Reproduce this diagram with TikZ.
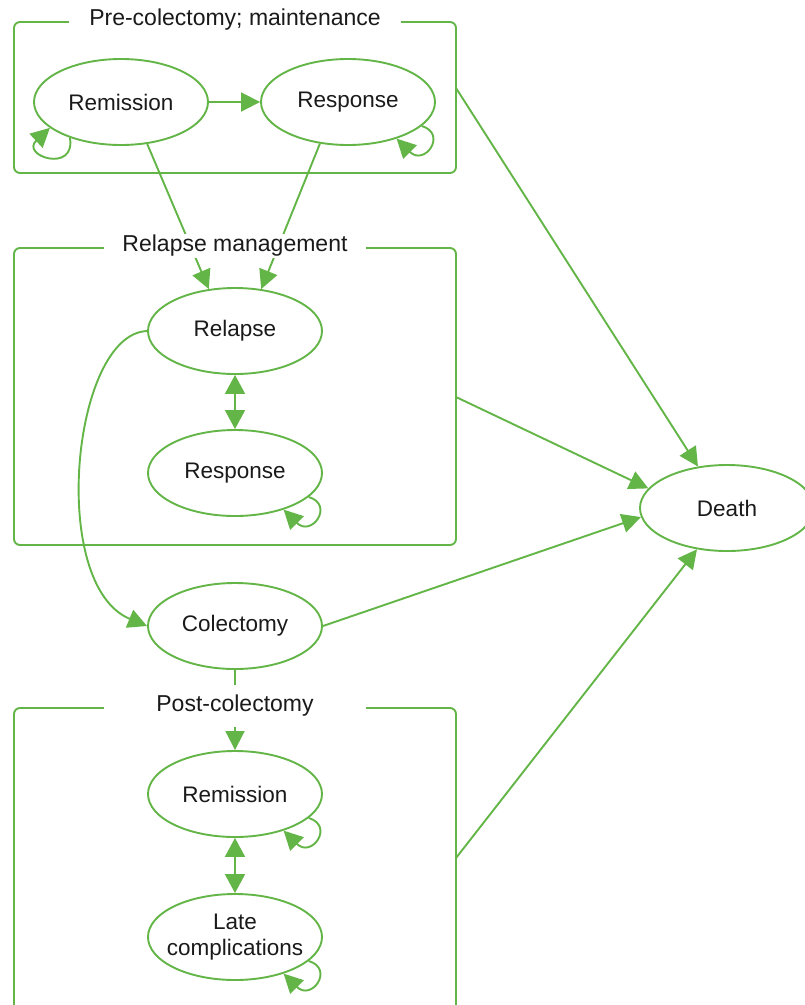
\documentclass[tikz,border=0pt]{standalone}
\usepackage{fontspec}
\setmainfont{Liberation Sans}
\usepackage{tikz}
\usetikzlibrary{positioning,shapes.geometric,arrows.meta,calc}
\definecolor{leaf} {HTML}{62B546}
\definecolor{ink}  {HTML}{1A1A1A}
\tikzset{
  every node/.style={font=\fontsize{22.5}{25}\selectfont, text=ink},
  % --- nodes
  st/.style    = {ellipse, draw=leaf, line width=1.9pt, fill=white, align=center,
                  minimum width=174pt, minimum height=86pt, inner sep=0pt},
  panel/.style = {rectangle, rounded corners=6pt, draw=leaf, line width=1.9pt},
  ttl/.style   = {fill=white, inner xsep=0pt, inner ysep=1pt, minimum width=262pt,
                  font=\fontsize{23}{26}\selectfont},
  % --- edges
  e/.style     = {-{Triangle[length=19pt,width=19pt]}, line width=1.9pt, draw=leaf},
  ee/.style    = {e, {Triangle[length=19pt,width=20pt]}-{Triangle[length=19pt,width=20pt]}},
}
\begin{document}
\begin{tikzpicture}[x=1pt,y=1pt]
  \useasboundingbox (0,0) rectangle (805,-1005);

  % panels
  \node[panel, minimum width=442pt, minimum height=151pt] (pre)  at (235,-97.5) {};
  \node[panel, minimum width=442pt, minimum height=297pt] (rel)  at (235,-396.5) {};
  \node[panel, minimum width=442pt, minimum height=322pt] (post) at (235,-869) {};

  % states
  \node[st] (rem1)  at (121,-102) {Remission};
  \node[st] (resp1) at (348,-102) {Response};
  \node[st] (relap) at (235,-331) {Relapse};
  \node[st] (resp2) at (235,-473) {Response};
  \node[st] (colec) at (235,-626) {Colectomy};
  \node[st] (rem3)  at (235,-794) {Remission};
  \node[st, inner xsep=-9pt, inner ysep=-6pt] (late) at (235,-937)
       {Late\\[1pt]complications};
  \node[st] (death) at (727,-508) {Death};

  \coordinate (preout)  at (456,-88);
  \coordinate (relout)  at (456,-397);
  \coordinate (postout) at (456,-858);

  % transitions
  \draw[e] (rem1) -- (resp1);
  \draw[e] (rem1.-58) -- (relap.122);
  \draw[e] (resp1.236) -- (relap.58);
  \draw[ee] (relap) -- (resp2);
  \draw[ee] (rem3) -- (late);
  \draw[e] (relap.west) .. controls (72,-334) and (48,-585) .. (colec.west);
  \draw[e] (colec) -- (rem3);

  \draw[e] (preout)     -- (death.125);
  \draw[e] (relout)     -- (death.166);
  \draw[e] (colec.east) -- (death.186);
  \draw[e] (postout)    -- (death.234);

  % self loops
  \draw[e] (rem1.215) .. controls +(6,-36) and +(-30,-28) .. (rem1.200);
  \foreach \n in {resp1,resp2,rem3,late}
    \draw[e] (\n.-18) .. controls +(26,-8) and +(28,-28) .. (\n.-37);

  % panel titles
  \node[ttl, inner xsep=20pt] (t1) at (235,-20)  {Pre-colectomy; maintenance};
  \node[ttl] (t2) at (235,-246) {Relapse management};
  \node[ttl, inner ysep=10pt] (t3) at (235,-706) {Post-colectomy};
\end{tikzpicture}
\end{document}
